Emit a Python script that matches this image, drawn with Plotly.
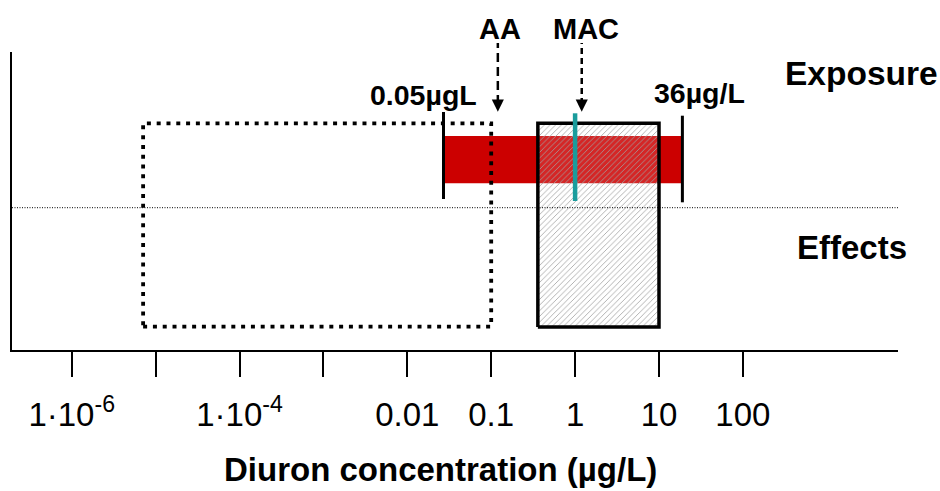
import math
import plotly.graph_objects as go

# ---------------- data (concentrations in µg/L) ----------------
tick_values = [1e-6, 1e-5, 1e-4, 1e-3, 1e-2, 1e-1, 1, 10, 100]
tick_labels = ["1·10<sup>-6</sup>", " ", "1·10<sup>-4</sup>", " ", "0.01", "0.1", "1", "10", "100"]
axis_title = "Diuron concentration (µg/L)"

exposure_min = 0.027      # left end of measured exposure bar ("0.05µgL")
exposure_max = 19.0       # right end of measured exposure bar ("36µg/L")
exposure_labels = ["0.05µgL", "36µg/L"]

effects_hatched = [0.36, 10.0]     # hatched effect-range box
effects_dotted = [7.1e-6, 0.1]     # dotted effect-range box

aa_eqs = 0.12     # AA arrow
mac_arrow = 1.2   # MAC arrow
mac_line = 1.0    # teal MAC line

# ---------------- layout helpers (pixel geometry of the figure) ----------------
W, H = 940, 491
L, R, T, B = 12, 42, 52, 141
PW, PH = W - L - R, H - T - B


def ypx(py):          # pixel row -> y data unit (y axis range 0..PH)
    return (H - B) - py


def fx(px):           # pixel column -> paper x
    return (px - L) / PW


def fy(py):           # pixel row -> paper y
    return ((H - B) - py) / PH


FONT = "Liberation Sans, Arial, Helvetica, sans-serif"

fig = go.Figure()

# red exposure bar
bar_y0, bar_y1 = ypx(183.3), ypx(136)
fig.add_trace(go.Scatter(
    x=[exposure_min, exposure_max, exposure_max, exposure_min, exposure_min],
    y=[bar_y0, bar_y0, bar_y1, bar_y1, bar_y0],
    mode="lines", fill="toself", fillcolor="#CC0000",
    line=dict(width=0, color="#CC0000"), hoverinfo="skip", showlegend=False))

# limit lines at both ends of the exposure range
fig.add_trace(go.Scatter(x=[exposure_min, exposure_min], y=[ypx(199), ypx(112)],
                         mode="lines", line=dict(color="black", width=3),
                         hoverinfo="skip", showlegend=False))
fig.add_trace(go.Scatter(x=[exposure_max, exposure_max], y=[ypx(202.3), ypx(115.7)],
                         mode="lines", line=dict(color="black", width=3),
                         hoverinfo="skip", showlegend=False))

# hatched effects box
bx0, bx1 = effects_hatched
by0, by1 = ypx(327), ypx(123.3)
fig.add_trace(go.Scatter(
    x=[bx0, bx1, bx1, bx0, bx0], y=[by0, by0, by1, by1, by0],
    mode="lines", fill="toself", fillcolor="rgba(255,255,255,0.1)",
    fillpattern=dict(shape="/", fgcolor="#a0a0a0", bgcolor="rgba(255,255,255,0.15)",
                     size=4, solidity=0.2, fillmode="replace"),
    line=dict(color="black", width=3.5), hoverinfo="skip", showlegend=False))

# teal MAC line
fig.add_trace(go.Scatter(x=[mac_line, mac_line], y=[ypx(201), ypx(113.3)],
                         mode="lines", line=dict(color="#1a9c9c", width=4.5),
                         hoverinfo="skip", showlegend=False))

# dotted effects box
dx0, dx1 = effects_dotted
dy0, dy1 = ypx(326.7), ypx(123.3)
fig.add_trace(go.Scatter(
    x=[dx0, dx1, dx1, dx0, dx0], y=[dy0, dy0, dy1, dy1, dy0],
    mode="lines", line=dict(color="black", width=3.8, dash="4px,5.8px"),
    hoverinfo="skip", showlegend=False))

shapes = [
    # thin dotted separator between exposure and effects
    dict(type="line", xref="paper", yref="y", x0=0, x1=1, y0=ypx(207.7), y1=ypx(207.7),
         line=dict(color="black", width=1, dash="1px,1.5px"), layer="above"),
    # dashed arrow shafts
    dict(type="line", xref="x", yref="paper", x0=aa_eqs, x1=aa_eqs,
         y0=fy(104), y1=fy(43), line=dict(color="black", width=2.5, dash="9px,5px")),
    dict(type="line", xref="x", yref="paper", x0=mac_arrow, x1=mac_arrow,
         y0=fy(104), y1=fy(43), line=dict(color="black", width=2.5, dash="6px,4px")),
]

annotations = []
# arrow heads
for xv in (aa_eqs, mac_arrow):
    annotations.append(dict(x=math.log10(xv), y=fy(111.7), xref="x", yref="paper",
                            ax=0, ay=-13, showarrow=True, arrowhead=2, arrowsize=1.1,
                            arrowwidth=2.2, arrowcolor="black", text=" "))


def label(text, cx, cy, size):
    annotations.append(dict(text=text, x=fx(cx), y=fy(cy), xref="paper", yref="paper",
                            xanchor="center", yanchor="middle", showarrow=False,
                            font=dict(family=FONT, size=size, color="black", weight="bold")))


label("AA", 500, 29, 29)
label("MAC", 586, 29, 29)
label(exposure_labels[0], 423.5, 95, 28.5)
label(exposure_labels[1], 699, 93, 28.5)
label("Exposure", 861, 73.5, 33.5)
label("Effects", 852, 247, 33)
label(axis_title, 440.5, 470, 33)

lx0 = -6 + (L - 71.7) / 83.9
lx1 = -6 + (W - R - 71.7) / 83.9

fig.update_layout(
    width=W, height=H,
    margin=dict(l=L, r=R, t=T, b=B, autoexpand=False),
    paper_bgcolor="white", plot_bgcolor="white",
    showlegend=False,
    shapes=shapes, annotations=annotations,
    font=dict(family=FONT, color="black"),
    xaxis=dict(type="log", range=[lx0, lx1], showgrid=False, zeroline=False,
               showline=True, linecolor="black", linewidth=1.8,
               ticks="outside", ticklen=25, tickwidth=1.5, tickcolor="black",
               tickvals=tick_values, ticktext=tick_labels,
               tickfont=dict(family=FONT, size=33, color="black"),
               ticklabelstandoff=9,
               automargin=False, fixedrange=True),
    yaxis=dict(range=[0, PH], showgrid=False, zeroline=False, showticklabels=False,
               ticks="", showline=True, linecolor="black", linewidth=1.8,
               automargin=False, fixedrange=True),
)

fig.write_html("out.html", config={"displayModeBar": False},
               post_script="document.body.style.margin='0';document.body.style.overflow='hidden';")
